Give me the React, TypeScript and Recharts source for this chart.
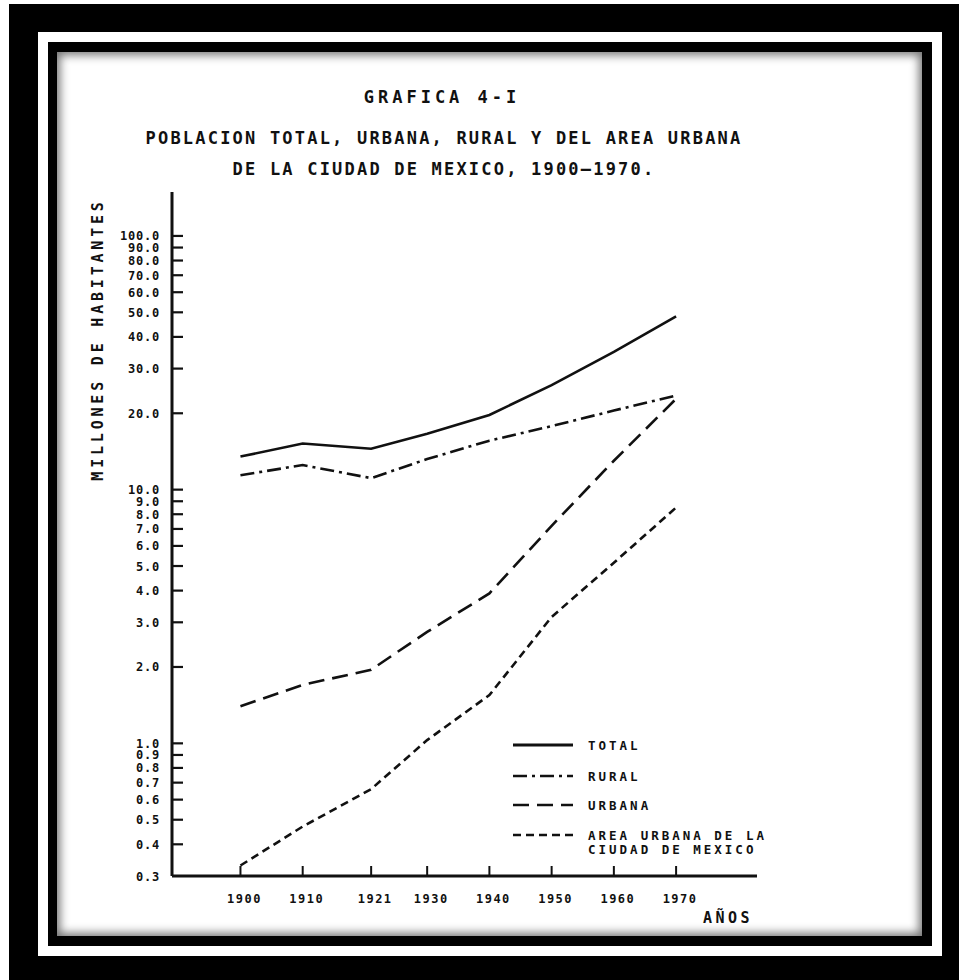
import React from 'react'
import { LineChart, Line, XAxis, YAxis, Legend } from 'recharts'

// values (millions of inhabitants)
const YEARS = [1900, 1910, 1921, 1930, 1940, 1950, 1960, 1970]
const TOTAL = [13.5, 15.2, 14.5, 16.6, 19.7, 25.8, 34.9, 48.2]
const RURAL = [11.4, 12.5, 11.1, 13.2, 15.6, 17.8, 20.5, 23.5]
const URBANA = [1.4, 1.7, 1.95, 2.75, 3.9, 7.2, 13.0, 22.8]
const AREA_CDMX = [0.33, 0.47, 0.66, 1.03, 1.55, 3.15, 5.15, 8.5]

const Y_TICKS = [
  0.3, 0.4, 0.5, 0.6, 0.7, 0.8, 0.9, 1, 2, 3, 4, 5, 6, 7, 8, 9, 10,
  20, 30, 40, 50, 60, 70, 80, 90, 100,
]
const X_TICKS = YEARS

const SERIES = [
  { key: 'total', name: 'TOTAL', dash: undefined },
  { key: 'rural', name: 'RURAL', dash: '14 5 3 5' },
  { key: 'urbana', name: 'URBANA', dash: '16 8' },
  { key: 'area', name: 'AREA URBANA DE LA\nCIUDAD DE MEXICO', dash: '8 5' },
]

const data = YEARS.map((year, i) => ({
  year,
  total: TOTAL[i],
  rural: RURAL[i],
  urbana: URBANA[i],
  area: AREA_CDMX[i],
}))

const INK = '#111'
const FONT = '"DejaVu Sans Mono", "Liberation Mono", monospace'

function YTick(props: any) {
  const { x, y, payload } = props
  const v = payload.value as number
  return (
    <g>
      {v > 0.3 && (
        <line x1={x + 12} x2={x + 23} y1={y} y2={y} stroke={INK} strokeWidth={2.2} />
      )}
      <text
        x={x}
        y={y}
        dy={4.5}
        textAnchor="end"
        fill={INK}
        style={{ fontFamily: FONT, fontSize: 12, fontWeight: 700, letterSpacing: 0.8 }}
      >
        {v.toFixed(1)}
      </text>
    </g>
  )
}

function XTick(props: any) {
  const { x, y, payload } = props
  return (
    <text
      x={x + 4}
      y={y}
      dy={9}
      textAnchor="middle"
      fill={INK}
      style={{ fontFamily: FONT, fontSize: 12, fontWeight: 700, letterSpacing: 1.5 }}
    >
      {payload.value}
    </text>
  )
}

// legend drawn in the order of the original key
function LegendBox() {
  const rows = [15, 46, 75, 105]
  return (
    <svg width={280} height={135}>
      {SERIES.map((s, i) => (
        <g key={s.key}>
          <line
            x1={8}
            x2={68}
            y1={rows[i]}
            y2={rows[i]}
            stroke={INK}
            strokeWidth={s.dash ? 2.6 : 3.2}
            strokeDasharray={s.dash}
          />
          <text
            x={83}
            y={rows[i] + 4.5}
            fill={INK}
            style={{ fontFamily: FONT, fontSize: 12.5, fontWeight: 700, letterSpacing: 3 }}
          >
            {s.name.split('\n').map((t, j) => (
              <tspan key={j} x={83} dy={j === 0 ? 0 : 14}>
                {t}
              </tspan>
            ))}
          </text>
        </g>
      ))}
    </svg>
  )
}

const textStyle: React.CSSProperties = {
  position: 'absolute',
  fontFamily: FONT,
  fontWeight: 700,
  color: INK,
  whiteSpace: 'nowrap',
  lineHeight: 1,
}

export default function App() {
  return (
    <div
      style={{
        position: 'absolute',
        left: 0,
        top: 0,
        width: 959,
        height: 980,
        background: '#fff',
        overflow: 'hidden',
      }}
    >
      <div style={{ position: 'absolute', left: 9, top: 4, width: 950, height: 976, background: '#000' }} />
      <div style={{ position: 'absolute', left: 38, top: 32, width: 904, height: 924, background: '#fff' }} />
      <div style={{ position: 'absolute', left: 48, top: 42, width: 884, height: 904, background: '#000' }} />
      <div
        style={{
          position: 'absolute',
          left: 57,
          top: 52,
          width: 865,
          height: 884,
          background: '#fff',
          boxShadow: 'inset 0 0 10px 3px rgba(0,0,0,0.55)',
        }}
      />

      <div style={{ ...textStyle, left: 0, width: 884, top: 89, textAlign: 'center', fontSize: 17, letterSpacing: 4 }}>
        GRAFICA 4-I
      </div>
      <div style={{ ...textStyle, left: 0, width: 888, top: 130, textAlign: 'center', fontSize: 17, letterSpacing: 2.2 }}>
        POBLACION TOTAL, URBANA, RURAL Y DEL AREA URBANA
      </div>
      <div style={{ ...textStyle, left: 0, width: 888, top: 161, textAlign: 'center', fontSize: 17, letterSpacing: 2.2 }}>
        DE LA CIUDAD DE MEXICO, 1900—1970.
      </div>
      <div
        style={{
          ...textStyle,
          left: 98 - 160,
          top: 340 - 8,
          width: 320,
          textAlign: 'center',
          fontSize: 15,
          letterSpacing: 3.8,
          transform: 'rotate(-90deg)',
        }}
      >
        MILLONES DE HABITANTES
      </div>
      <div style={{ ...textStyle, left: 703, top: 911, fontSize: 15, letterSpacing: 3.5 }}>AÑOS</div>

      <div style={{ position: 'absolute', left: 0, top: 0 }}>
        <LineChart width={959} height={980} data={data} margin={{ top: 192, right: 202, bottom: 74, left: 112 }}>
          <XAxis
            dataKey="year"
            type="number"
            domain={[1889, 1983]}
            ticks={X_TICKS}
            interval={0}
            tickSize={-10}
            tickMargin={28}
            tickLine={{ stroke: INK, strokeWidth: 2 }}
            tick={<XTick />}
            height={30}
            axisLine={{ stroke: INK, strokeWidth: 3 }}
            allowDataOverflow
          />
          <YAxis
            type="number"
            scale="log"
            domain={[0.3, 149]}
            ticks={Y_TICKS}
            interval={0}
            tickSize={0}
            tickMargin={12}
            tickLine={false}
            tick={<YTick />}
            width={60}
            axisLine={{ stroke: INK, strokeWidth: 3 }}
            allowDataOverflow
          />
          <Legend
            layout="horizontal"
            verticalAlign="middle"
            align="center"
            content={<LegendBox />}
            wrapperStyle={{ left: 505, top: 730, width: 280 }}
          />
          {SERIES.map((s) => (
            <Line
              key={s.key}
              dataKey={s.key}
              name={s.name}
              type="linear"
              stroke={INK}
              strokeWidth={2.6}
              strokeDasharray={s.dash}
              dot={false}
              activeDot={false}
              isAnimationActive={false}
            />
          ))}
        </LineChart>
      </div>
    </div>
  )
}
